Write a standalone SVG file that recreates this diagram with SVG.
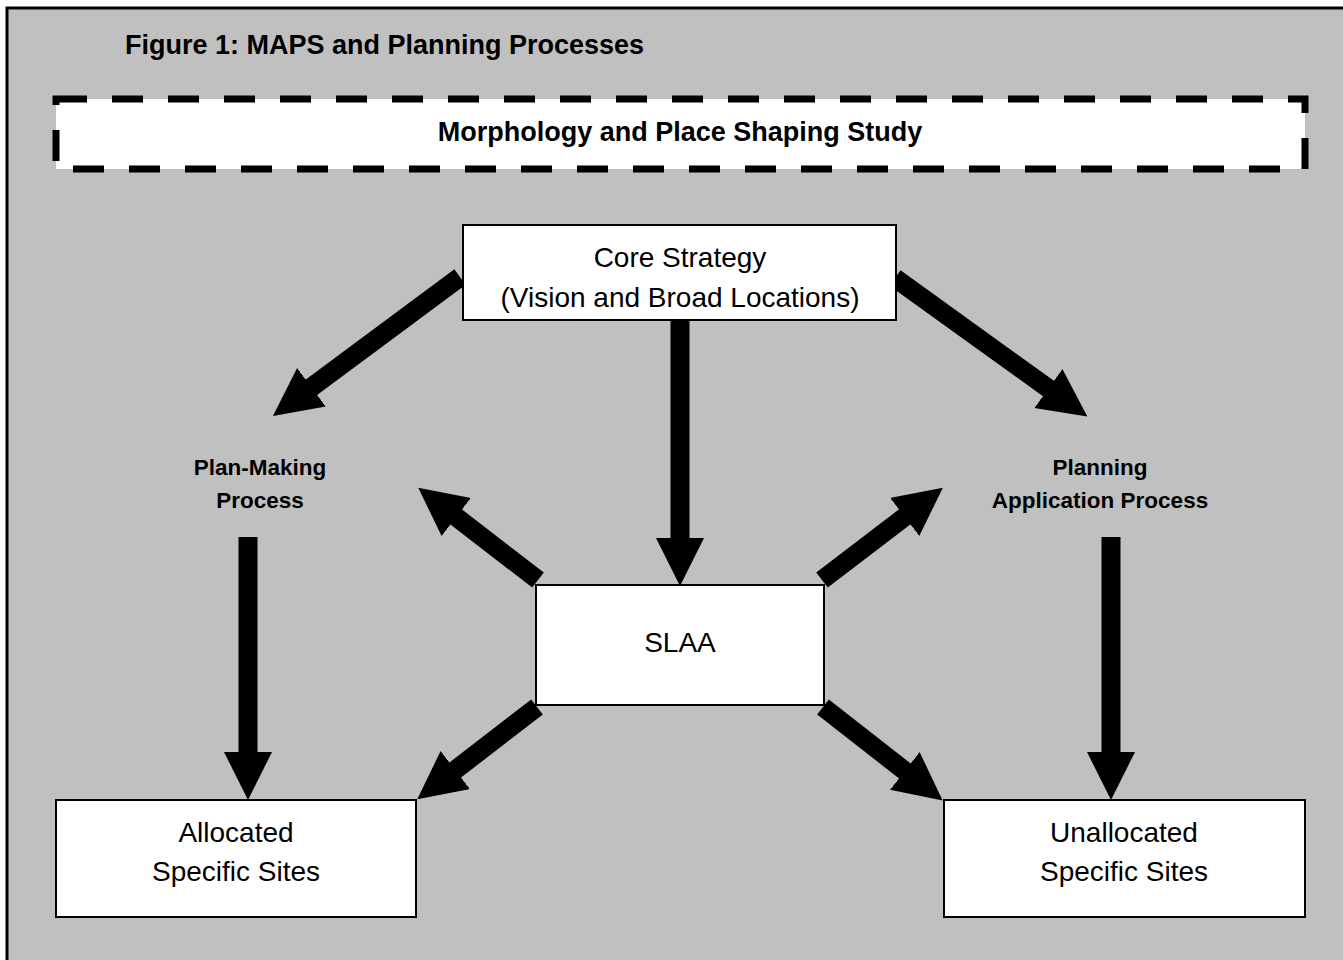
<svg xmlns="http://www.w3.org/2000/svg" width="1343" height="960" viewBox="0 0 1343 960">
<defs>
<style>
.box{fill:#fff;stroke:#000;stroke-width:2}
.t{font-family:"Liberation Sans",Arial,sans-serif;fill:#000;text-anchor:middle}
.reg{font-size:28px}
.lbl{font-size:22.5px;font-weight:bold}
.arr{stroke:#000;stroke-width:19;fill:none;marker-end:url(#ah)}
</style>
<marker id="ah" markerUnits="userSpaceOnUse" markerWidth="50" markerHeight="50" refX="18" refY="24" orient="auto">
<path d="M0,0 L48,24 L0,48 z" fill="#000"/>
</marker>
</defs>
<rect x="0" y="0" width="1343" height="960" fill="#fff"/>
<rect id="frame" x="7" y="8" width="1345" height="960" fill="#c0c0c0" stroke="#000" stroke-width="3"/>
<text class="t" x="125" y="54" style="font-size:27px;font-weight:bold;text-anchor:start">Figure 1: MAPS and Planning Processes</text>
<g id="mapsStudy">
<rect x="56" y="99" width="1249" height="70" fill="#fff" stroke="#000" stroke-width="7" stroke-dasharray="31 25"/>
<text class="t" x="680" y="141" style="font-size:27px;font-weight:bold">Morphology and Place Shaping Study</text>
</g>
<g id="connectors">
<line class="arr" x1="460" y1="277" x2="297" y2="398"/>
<line class="arr" x1="895" y1="278" x2="1063" y2="399"/>
<line class="arr" x1="680" y1="320" x2="680" y2="556"/>
<line class="arr" x1="538" y1="580" x2="442" y2="506"/>
<line class="arr" x1="822" y1="580" x2="919" y2="506"/>
<line class="arr" x1="537" y1="707" x2="441" y2="781"/>
<line class="arr" x1="823" y1="707" x2="919" y2="782"/>
<line class="arr" x1="248" y1="537" x2="248" y2="770"/>
<line class="arr" x1="1111" y1="537" x2="1111" y2="770"/>
</g>
<g id="coreStrategy">
<rect class="box" x="463" y="225" width="433" height="95"/>
<text class="t reg" x="680" y="267">Core Strategy</text>
<text class="t reg" x="680" y="307">(Vision and Broad Locations)</text>
</g>
<g id="planMaking">
<text class="t lbl" x="260" y="475">Plan-Making</text>
<text class="t lbl" x="260" y="508">Process</text>
</g>
<g id="planningApplication">
<text class="t lbl" x="1100" y="475">Planning</text>
<text class="t lbl" x="1100" y="508">Application Process</text>
</g>
<g id="slaa">
<rect class="box" x="536" y="585" width="288" height="120"/>
<text class="t reg" x="680" y="652">SLAA</text>
</g>
<g id="allocated">
<rect class="box" x="56" y="800" width="360" height="117"/>
<text class="t reg" x="236" y="842">Allocated</text>
<text class="t reg" x="236" y="881">Specific Sites</text>
</g>
<g id="unallocated">
<rect class="box" x="944" y="800" width="361" height="117"/>
<text class="t reg" x="1124" y="842">Unallocated</text>
<text class="t reg" x="1124" y="881">Specific Sites</text>
</g>
</svg>
